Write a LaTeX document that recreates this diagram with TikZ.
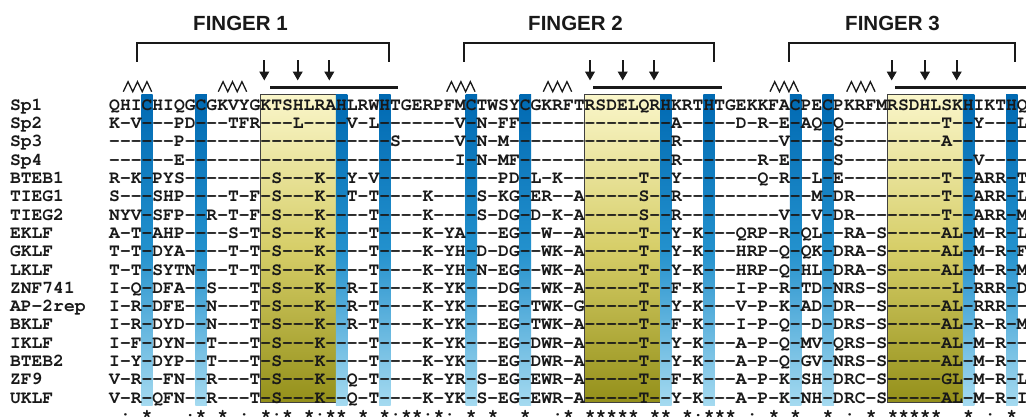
\documentclass[tikz,border=0pt]{standalone}
\usepackage{fontspec}
\setmonofont{TeX Gyre Cursor}
\newfontfamily\labfont{Liberation Sans}
\usetikzlibrary{arrows.meta}
\definecolor{txt}{RGB}{25,25,25}
\definecolor{bartop}{RGB}{0,105,178}
\definecolor{barmid}{RGB}{35,145,205}
\definecolor{barbot}{RGB}{165,218,240}
\definecolor{yeltop}{RGB}{250,246,202}
\definecolor{yelmid}{RGB}{214,206,104}
\definecolor{yelbot}{RGB}{148,144,26}
\begin{document}
\begin{tikzpicture}[x=1pt,y=-1pt,
  seq/.style={anchor=base west,inner sep=0pt,outer sep=0pt,font=\ttfamily\bfseries\fontsize{18.01}{20}\selectfont,text=txt},
  cons/.style={anchor=base,inner sep=0pt,outer sep=0pt,font=\ttfamily\bfseries\fontsize{18.01}{20}\selectfont,text=txt},
  fing/.style={font=\labfont\bfseries\fontsize{20.5}{22}\selectfont,text=txt,inner sep=0pt},
  brk/.style={line width=2.2pt,draw=txt},
  helix/.style={line width=3.4pt,draw=txt},
  zig/.style={line width=1.3pt,draw=txt,line join=miter},
  dn/.style={line width=2.3pt,draw=txt,-{Triangle[length=9pt,width=9.5pt]}},
  cbar/.style={top color=bartop,bottom color=barbot,middle color=barmid},
  ybox/.style={top color=yeltop,bottom color=yelbot,middle color=yelmid,draw=black!75,line width=0.8pt}
]
\useasboundingbox (0,0) rectangle (1026,416);
\clip (0,0) rectangle (1026,416);
\fill[white] (0,0) rectangle (1026,416);
% yellow recognition-helix boxes
\foreach \a/\b in {14/20,44/50,72/78}
  \shade[ybox] ({114.6+10.81*\a-5.4},94.5) rectangle ({114.6+10.81*\b+5.4},402);
% blue conserved C/H bars
\foreach \i in {3,8,21,25,33,38,51,55,63,66,79,83}
  \shade[cbar] ({114.6+10.81*\i-5.7},94) rectangle ({114.6+10.81*\i+5.7},405);
% finger labels and brackets
\node[fing] (f1) at (240.5,23) {FINGER 1};
\node[fing] (f2) at (575.5,23) {FINGER 2};
\node[fing] (f3) at (892.5,23) {FINGER 3};
\draw[brk] (137,61.7) -- (137,43.3) -- (389,43.3) -- (389,61.7);
\draw[brk] (464,61.7) -- (464,43.3) -- (714,43.3) -- (714,61.7);
\draw[brk] (789,61.7) -- (789,43.3) -- (1015,43.3) -- (1015,61.7);
% beta-sheet zigzags
\foreach \x in {123.3,218.3,446.7,543.3,770,846.7}
  \draw[zig] (\x,91.7) -- ++(4.73,-10) -- ++(4.73,10) -- ++(4.73,-10) -- ++(4.73,10) -- ++(4.73,-10) -- ++(4.73,10);
% DNA-contact arrows
\foreach \x in {264.3,297.7,329.3,590,622.7,654,891.7,925,956.7}
  \draw[dn] (\x,60) -- (\x,80.5);
% helices
\draw[helix] (270,87.7) -- (398,87.7);
\draw[helix] (593,87.7) -- (722,87.7);
\draw[helix] (895,87.7) -- (1030,87.7);
% sequences (blocks of ten residues)
\foreach \nm/\sq [count=\r from 0] in {
 Sp1/QHICHIQGCG{}KVYGKTSHLR{}AHLRWHTGER{}PFMCTWSYCG{}KRFTRSDELQ{}RHKRTHTGEK{}KFACPECPKR{}FMRSDHLSKH{}IKTHQ,
 Sp2/K-V---PD--{}-TFR---L--{}--V-L-----{}--V-N-FF--{}----------{}--A-----D-{}R-E-AQ-Q--{}-------T--{}Y---L,
 Sp3/------P---{}----------{}------S---{}--V-N-M---{}----------{}--R-------{}--V----S--{}-------A--{}-----,
 Sp4/------E---{}----------{}----------{}--I-N-MF--{}----------{}--R-------{}R-E----S--{}----------{}V----,
 BTEB1/R-K-PYS---{}-----S---K{}--Y-V-----{}------PD-L{}-K-------T{}--Y-------{}Q-R--L-E--{}-------T--{}ARR-T,
 TIEG1/S---SHP---{}-T-F-S---K{}--T-T----K{}----S-KG-E{}R--A-----S{}--R-------{}-----M-DR-{}-------T--{}ARR-L,
 TIEG2/NYV-SFP--R{}-T-F-S---K{}----T----K{}----S-DG-D{}-K-A-----S{}--R-------{}--V--V-DR-{}-------T--{}ARR-M,
 EKLF/A-T-AHP---{}-S-T-S---K{}----T----K{}-YA---EG--{}W--A-----T{}--Y-K---QR{}P-R-QL--RA{}-S-----AL-{}M-R-L,
 GKLF/T-T-DYA---{}-T-T-S---K{}----T----K{}-YH-D-DG--{}WK-A-----T{}--Y-K---HR{}P-Q-QK-DRA{}-S-----AL-{}M-R-F,
 LKLF/T-T-SYTN--{}-T-T-S---K{}----T----K{}-YH-N-EG--{}WK-A-----T{}--Y-K---HR{}P-Q-HL-DRA{}-S-----AL-{}M-R-M,
 ZNF741/I-Q-DFA--S{}---T-S---K{}--R-I----K{}-YK---DG--{}WK-A-----T{}--F-K---I-{}P-R-TD-NRS{}-S------L-{}RRR-D,
 AP-2rep/I-R-DFE--N{}---T-S---K{}--R-T----K{}-YK---EG-T{}WK-G-----T{}--Y-K---V-{}P-K-AD-DR-{}-S-----AL-{}RRR--,
 BKLF/I-R-DYD--N{}---T-S---K{}--R-T----K{}-YK---EG-T{}WK-A-----T{}--F-K---I-{}P-Q--D-DRS{}-S-----AL-{}R-R-M,
 IKLF/I-F-DYN--T{}---T-S---K{}----T----K{}-YK---EG-D{}WR-A-----T{}--Y-K---A-{}P-Q-MV-QRS{}-S-----AL-{}M-R--,
 BTEB2/I-Y-DYP--T{}---T-S---K{}----T----K{}-YK---EG-D{}WR-A-----T{}--Y-K---A-{}P-Q-GV-NRS{}-S-----AL-{}M-R--,
 ZF9/V-R--FN--R{}---T-S---K{}--Q-T----K{}-YR-S-EG-E{}WR-A-----T{}--F-K---A-{}P-K-SH-DRC{}-S-----GL-{}M-R-L,
 UKLF/V-R-QFN--R{}---T-S---K{}--Q-T----K{}-YK-S-EG-E{}WR-A-----T{}--Y-K---A-{}P-K-NH-DRC{}-S-----AL-{}M-R-I}
{
  \node[seq] (n\r) at (10,{110.3+18.3*\r}) {\nm};
  \node[seq] (q\r) at (109.2,{110.3+18.3*\r}) {\sq};
}
% conservation line
\foreach \i/\m in {1/:,3/*,8/*,10/*,12/:,14/*,15/:,16/*,18/*,19/:,20/*,21/*,23/*,25/*,26/:,27/*,28/*,29/:,30/*,31/:,33/*,35/*,38/*,41/:,42/*,44/*,45/*,46/*,47/*,48/*,50/*,51/*,53/*,55/*,56/*,57/*,59/:,61/*,63/*,66/*,68/:,70/*,72/*,73/*,74/*,75/*,76/*,79/*,81/:,83/*}
  \node[cons] (c\i) at ({114.6+10.81*\i},421) {\m};
\foreach \i in {7,54}
  \node[cons] (d\i) at ({114.6+10.81*\i},416.5) {.};
\end{tikzpicture}
\end{document}
